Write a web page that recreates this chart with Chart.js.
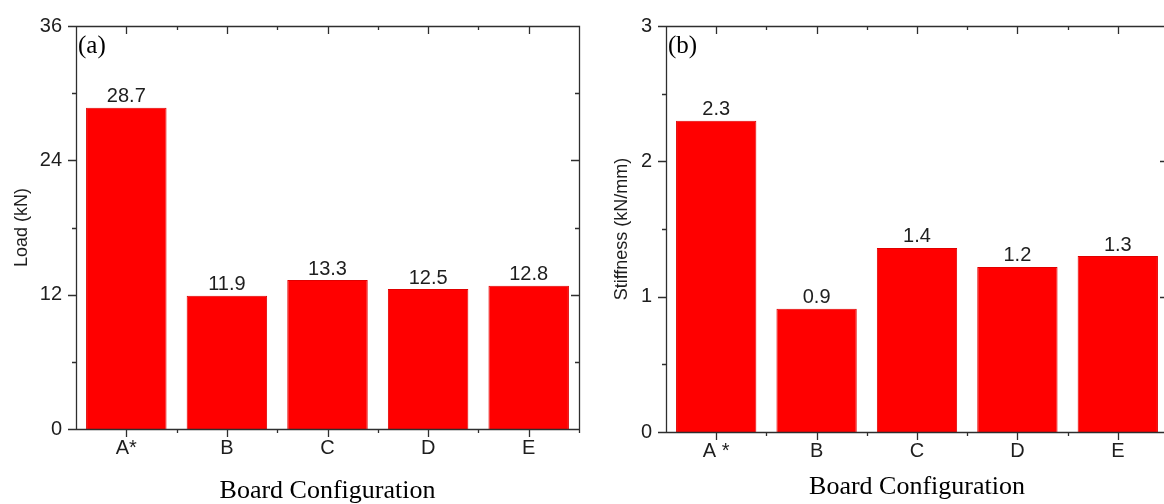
<!DOCTYPE html>
<html>
<head>
<meta charset="utf-8">
<script src="https://cdn.jsdelivr.net/npm/chart.js@4"></script>
<style>
  html, body { margin: 0; padding: 0; background: #fff; overflow: hidden; }
  body { width: 1164px; height: 504px; position: relative; }
  #loadChart { position: absolute; left: 0; top: 0; }
  #stiffChart { position: absolute; left: 585px; top: 0; }
</style>
</head>
<body>
<canvas id="loadChart" width="590" height="504"></canvas>
<canvas id="stiffChart" width="595" height="504"></canvas>
<script>
// data
const categoriesA = ['A*', 'B', 'C', 'D', 'E'];
const categoriesB = ['A *', 'B', 'C', 'D', 'E'];
const loadValues = [28.7, 11.9, 13.3, 12.5, 12.8];
const stiffnessValues = [2.30, 0.91, 1.36, 1.22, 1.30];
const loadTicks = [0, 12, 24, 36];
const stiffnessTicks = [0, 1, 2, 3];

const SANS = '"Liberation Sans", Arial, sans-serif';
const SERIF = '"Liberation Serif", "Times New Roman", serif';
const INK = '#1e1e1e';
const AXIS = '#2e2e2e';

// box + ticks (out on left/bottom, in on top/right), minor ticks in between
const framePlugin = {
    id: 'frame',
    afterDraw(chart, args, opts) {
        const { ctx, chartArea, scales } = chart;
        const { left, right, top, bottom } = chartArea;
        const x = scales.x, y = scales.y;
        const step = opts.step;
        ctx.save();
        ctx.strokeStyle = AXIS;
        ctx.lineWidth = 1.3;
        ctx.beginPath();
        ctx.rect(left + 0.5, top + 0.5, right - left, bottom - top);

        for (let v = y.min; v <= y.max + 1e-9; v += step / 2) {
            const py = Math.round(y.getPixelForValue(v)) + 0.5;
            const major = Math.abs(v / step - Math.round(v / step)) < 1e-6;
            const len = major ? 8 : 4;
            ctx.moveTo(left - len, py); ctx.lineTo(left + 0.5, py);
            ctx.moveTo(right + 0.5, py); ctx.lineTo(right - len, py);
        }

        const n = x.ticks.length;
        for (let i = 0; i < n; i += 0.5) {
            const px = Math.round(x.getPixelForValue(i)) + 0.5;
            const major = Number.isInteger(i);
            const len = major ? 8 : 4;
            ctx.moveTo(px, bottom + 0.5); ctx.lineTo(px, bottom + len);
            ctx.moveTo(px, top + 0.5); ctx.lineTo(px, top + len);
        }
        ctx.stroke();

        // panel letter
        ctx.fillStyle = '#000';
        ctx.font = '25px ' + SERIF;
        ctx.textBaseline = 'top';
        ctx.textAlign = 'left';
        ctx.fillText(opts.letter, left + 2, top + 8);
        ctx.restore();
    },
    afterDatasetsDraw(chart) {
        const { ctx } = chart;
        const meta = chart.getDatasetMeta(0);
        const values = chart.data.datasets[0].data;
        ctx.save();
        ctx.fillStyle = INK;
        ctx.font = '20px ' + SANS;
        ctx.textAlign = 'center';
        ctx.textBaseline = 'bottom';
        meta.data.forEach((bar, i) => {
            ctx.fillText(values[i].toFixed(1), bar.x, bar.y - 1);
        });
        ctx.restore();
    }
};

function makePanel(canvasId, labels, values, ticks, yTitle, opts) {
    const ctx = document.getElementById(canvasId).getContext('2d');
    return new Chart(ctx, {
        type: 'bar',
        data: {
            labels: labels,
            datasets: [{
                data: values,
                backgroundColor: '#ff0000',
                borderColor: '#e00000',
                borderWidth: 1,
                barPercentage: 0.8,
                categoryPercentage: 1.0
            }]
        },
        options: {
            responsive: false,
            animation: false,
            devicePixelRatio: 1,
            layout: { padding: { top: opts.top, right: opts.right, left: 0, bottom: 0 } },
            plugins: {
                legend: { display: false },
                tooltip: { enabled: false },
                frame: { step: ticks[1] - ticks[0], letter: opts.letter }
            },
            scales: {
                x: {
                    grid: { display: false, drawTicks: false },
                    border: { display: false },
                    ticks: { color: INK, font: { family: SANS, size: 20 }, padding: 7, maxRotation: 0 },
                    title: {
                        display: true,
                        text: 'Board Configuration',
                        color: '#000',
                        font: { family: SERIF, size: 26, lineHeight: 1 },
                        padding: { bottom: opts.xTitlePad, top: 0 }
                    },
                    afterFit: s => { s.height = opts.xHeight; }
                },
                y: {
                    min: ticks[0],
                    max: ticks[ticks.length - 1],
                    grid: { display: false, drawTicks: false },
                    border: { display: false },
                    afterBuildTicks: s => { s.ticks = ticks.map(v => ({ value: v })); },
                    ticks: { color: INK, font: { family: SANS, size: 20 }, padding: 14 },
                    title: {
                        display: true,
                        text: yTitle,
                        color: INK,
                        font: { family: SANS, size: 18 },
                        padding: { top: opts.yTitlePad, bottom: 0 }
                    },
                    afterFit: s => { s.width = opts.yWidth; }
                }
            }
        },
        plugins: [framePlugin]
    });
}

makePanel('loadChart', categoriesA, loadValues, loadTicks, 'Load (kN)',
    { top: 22, right: 11, xHeight: 75, yWidth: 76, xTitlePad: 0, yTitlePad: 11, letter: '(a)' });
makePanel('stiffChart', categoriesB, stiffnessValues, stiffnessTicks, 'Stiffness (kN/mm)',
    { top: 25, right: 12, xHeight: 72, yWidth: 81, xTitlePad: 4, yTitlePad: 26, letter: '(b)' });
</script>
</body>
</html>
